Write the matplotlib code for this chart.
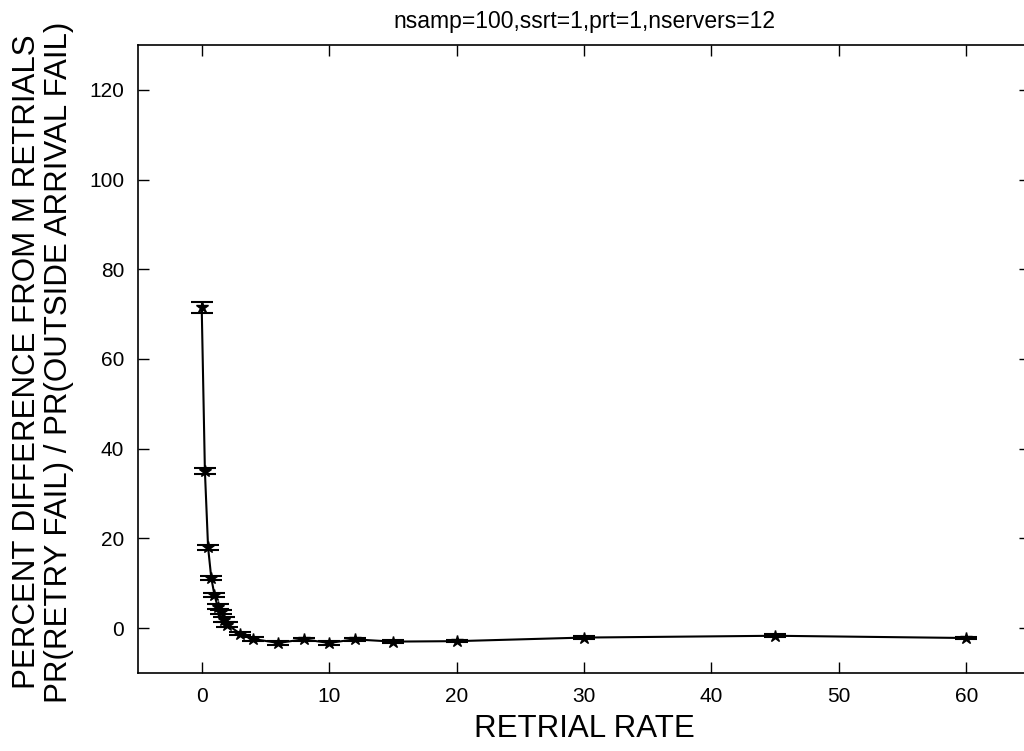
import numpy as np
import matplotlib
matplotlib.use('Agg')
import matplotlib.pyplot as plt

plt.rcParams['font.family'] = ['Liberation Sans', 'DejaVu Sans']

# retrial rate vs percent difference, with error bar half-widths
rate = [0, 0.25, 0.5, 0.75, 1.0, 1.25, 1.5, 1.75, 2.0, 3, 4, 6, 8, 10, 12, 15, 20, 30, 45, 60]
pctdiff = [71.5, 35, 18, 11.2, 7.4, 4.8, 3.6, 1.9, 0.8, -1.2, -2.4, -3.3, -2.5, -3.3, -2.5, -3.0, -2.9, -2.1, -1.7, -2.2]
err = [1.2, 0.6, 0.6, 0.5, 0.5, 0.5, 0.5, 0.5, 0.5, 0.4, 0.4, 0.4, 0.4, 0.4, 0.4, 0.4, 0.3, 0.3, 0.3, 0.3]

xticks = [0, 10, 20, 30, 40, 50, 60]
yticks = [0, 20, 40, 60, 80, 100, 120]

fig = plt.figure(figsize=(10.24, 7.51), dpi=100)
ax = fig.add_axes([138/1024, 1 - 673/751, 892/1024, (673 - 45)/751])

ax.errorbar(rate, pctdiff, yerr=err, color='k', lw=1.5, marker='*', ms=9,
            capsize=8, elinewidth=1.5, capthick=1.5)

ax.set_xlim(-5, 65)
ax.set_ylim(-10, 130)
ax.set_xticks(xticks)
ax.set_yticks(yticks)
ax.tick_params(direction='in', length=8, width=1, labelsize=15, top=True, right=True, pad=10)
for s in ax.spines.values():
    s.set_linewidth(1.2)

ax.set_title('nsamp=100,ssrt=1,prt=1,nservers=12', fontsize=16.5, pad=12)
ax.set_xlabel('RETRIAL RATE', fontsize=22.5, labelpad=6)
# two-line y label, sized so the longer line just fits the figure height
fig.text(43/1024, 1 - 362/751,
         'PERCENT DIFFERENCE FROM M RETRIALS\nPR(RETRY FAIL) / PR(OUTSIDE ARRIVAL FAIL)',
         rotation=90, ha='center', va='center', fontsize=22.5, linespacing=1.05)

fig.savefig('out.png', dpi=100)
